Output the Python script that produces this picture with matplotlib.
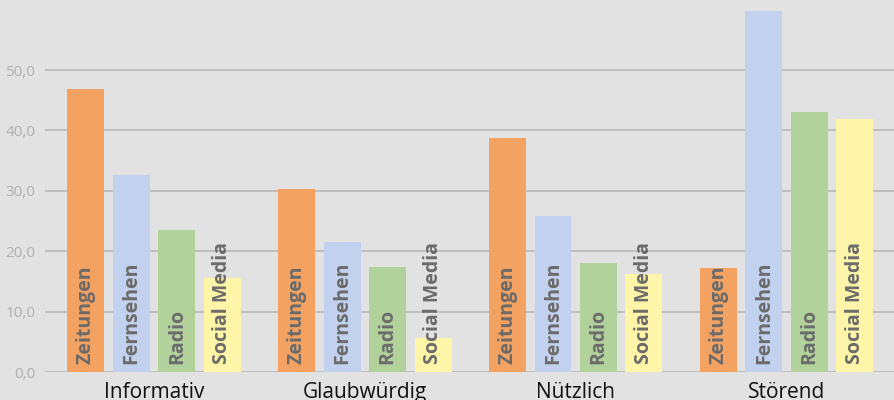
import numpy as np
import matplotlib.pyplot as plt

categories = ["Informativ", "Glaubwürdig", "Nützlich", "Störend"]
media = ["Zeitungen", "Fernsehen", "Radio", "Social Media"]
zeitungen = [46.9, 30.3, 38.7, 17.2]
fernsehen = [32.6, 21.5, 25.8, 59.8]
radio = [23.5, 17.4, 18.0, 43.0]
social_media = [15.6, 5.6, 16.2, 41.9]
y_ticks = [0, 10, 20, 30, 40, 50]

series = [zeitungen, fernsehen, radio, social_media]
colors = ["#f4a261", "#c1d1ee", "#b2d29c", "#fff5a8"]
bg = "#e2e2e2"

fig = plt.figure(figsize=(8.95, 4.0), dpi=100, facecolor=bg)
ax = fig.add_axes([0.0503, 0.07, 0.9497, 0.93], facecolor=bg)

x = np.arange(len(categories))
slot = 0.2156
width = 0.175
for i, (name, vals, col) in enumerate(zip(media, series, colors)):
    pos = x + (i - 1.5) * slot
    ax.bar(pos, vals, width=width, color=col, zorder=2)
    for p in pos:
        ax.text(p, 1.4, name, rotation=90, ha="center", va="bottom",
                fontsize=14, fontweight="bold", family="Open Sans",
                color="#6b6b6b", zorder=3)

ax.set_xlim(-0.517, 3.514)
ax.set_ylim(0, 61.6)
ax.set_yticks(y_ticks)
ax.set_yticklabels([f"{v:.1f}".replace(".", ",") for v in y_ticks],
                   fontsize=11, color="#b0b0b0", family="Open Sans")
ax.yaxis.grid(True, color="#bcbcbc", linewidth=1.3, zorder=0)
ax.set_axisbelow(True)
ax.set_xticks(x)
ax.set_xticklabels(categories, fontsize=15, family="Open Sans", color="#111111")
ax.tick_params(axis="both", length=0)
ax.tick_params(axis="x", pad=7)
ax.tick_params(axis="y", pad=7)
for s in ax.spines.values():
    s.set_visible(False)

fig.savefig("out.png", dpi=100, facecolor=bg)
